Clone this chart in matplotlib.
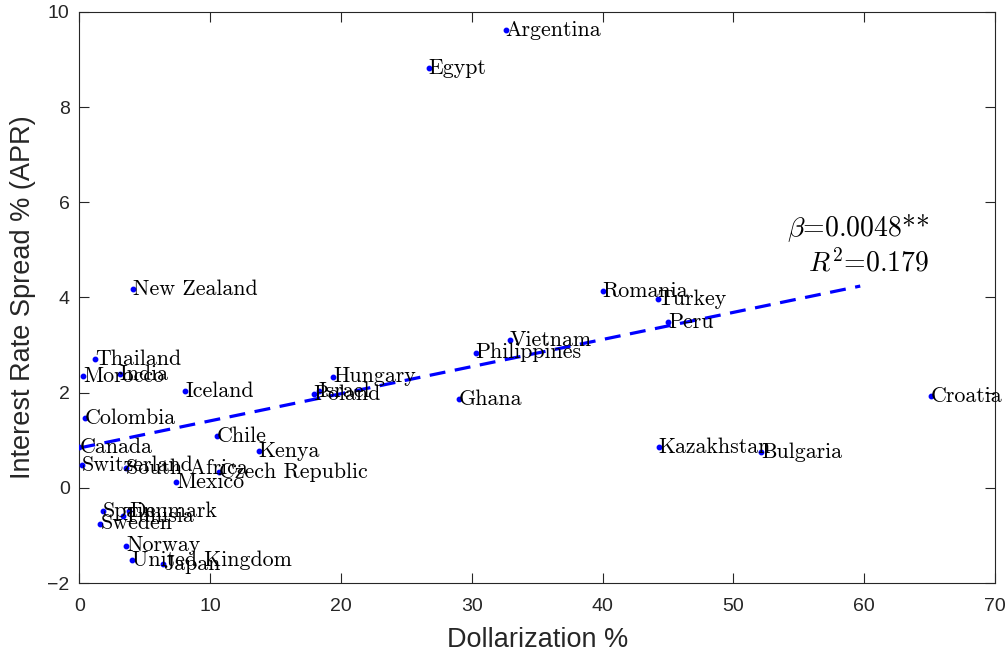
import matplotlib
matplotlib.use('Agg')
import matplotlib.pyplot as plt

# Dollarization (%) vs interest rate spread (APR, %)
countries = ['Argentina', 'Egypt', 'New Zealand', 'Romania', 'Turkey', 'Peru',
             'Vietnam', 'Philippines', 'Hungary', 'Israel', 'Poland', 'Ghana',
             'Croatia', 'Thailand', 'India', 'Morocco', 'Iceland', 'Colombia',
             'Chile', 'Canada', 'Kenya', 'Kazakhstan', 'Bulgaria', 'Switzerland',
             'South Africa', 'Czech Republic', 'Mexico', 'Spain', 'Denmark',
             'Tunisia', 'Sweden', 'Norway', 'United Kingdom', 'Japan']
dollarization = [32.6, 26.7, 4.1, 40.0, 44.2, 45.0,
                 32.9, 30.3, 19.4, 18.3, 17.9, 29.0,
                 65.1, 1.2, 3.1, 0.3, 8.1, 0.4,
                 10.5, 0.0, 13.7, 44.3, 52.1, 0.2,
                 3.6, 10.7, 7.4, 1.8, 3.8,
                 3.3, 1.6, 3.6, 4.0, 6.4]
spread = [9.62, 8.82, 4.18, 4.14, 3.96, 3.49,
          3.11, 2.84, 2.34, 2.04, 1.97, 1.87,
          1.93, 2.71, 2.39, 2.35, 2.04, 1.46,
          1.09, 0.85, 0.78, 0.86, 0.76, 0.48,
          0.42, 0.34, 0.12, -0.49, -0.48,
          -0.59, -0.75, -1.21, -1.51, -1.60]

# fitted line
fit_x = [0, 59.7]
fit_y = [0.84, 4.24]
beta_txt = r'$\beta$=0.0048**'
r2_txt = r'$R^2$=0.179'

plt.rcParams['mathtext.fontset'] = 'cm'
plt.rcParams['font.family'] = ['Liberation Sans', 'DejaVu Sans']
dark = '#262626'

fig = plt.figure(figsize=(10.05, 6.56), dpi=100)
ax = fig.add_axes([0.079, 0.111, 0.911, 0.871])

ax.plot(dollarization, spread, 'o', color='blue', markersize=3.2, zorder=3)
for name, x, y in zip(countries, dollarization, spread):
    ax.text(x, y, name, family='cmr10', fontsize=15.8, ha='left', va='center',
            color='black', zorder=4)

ax.plot(fit_x, fit_y, '--', color='blue', lw=2.3, dashes=(5, 3), zorder=2)

ax.text(65.0, 5.45, beta_txt, family='cmr10', fontsize=20, ha='right', va='center')
ax.text(65.0, 4.72, r2_txt, family='cmr10', fontsize=20, ha='right', va='center')

ax.set_xlim(0, 70)
ax.set_ylim(-2, 10)
ax.set_xticks(range(0, 71, 10))
ax.set_yticks(range(-2, 11, 2))
ax.tick_params(direction='in', length=7, width=0.8, colors=dark, labelsize=14,
               top=True, right=True)
ax.tick_params(axis='x', pad=11)
ax.tick_params(axis='y', pad=7)
for sp in ax.spines.values():
    sp.set_color(dark)
    sp.set_linewidth(0.8)

ax.set_xlabel('Dollarization %', fontsize=19.5, color=dark, labelpad=8)
ax.set_ylabel('Interest Rate Spread % (APR)', fontsize=19.5, color=dark, labelpad=8)

fig.savefig('out.png', dpi=100)
